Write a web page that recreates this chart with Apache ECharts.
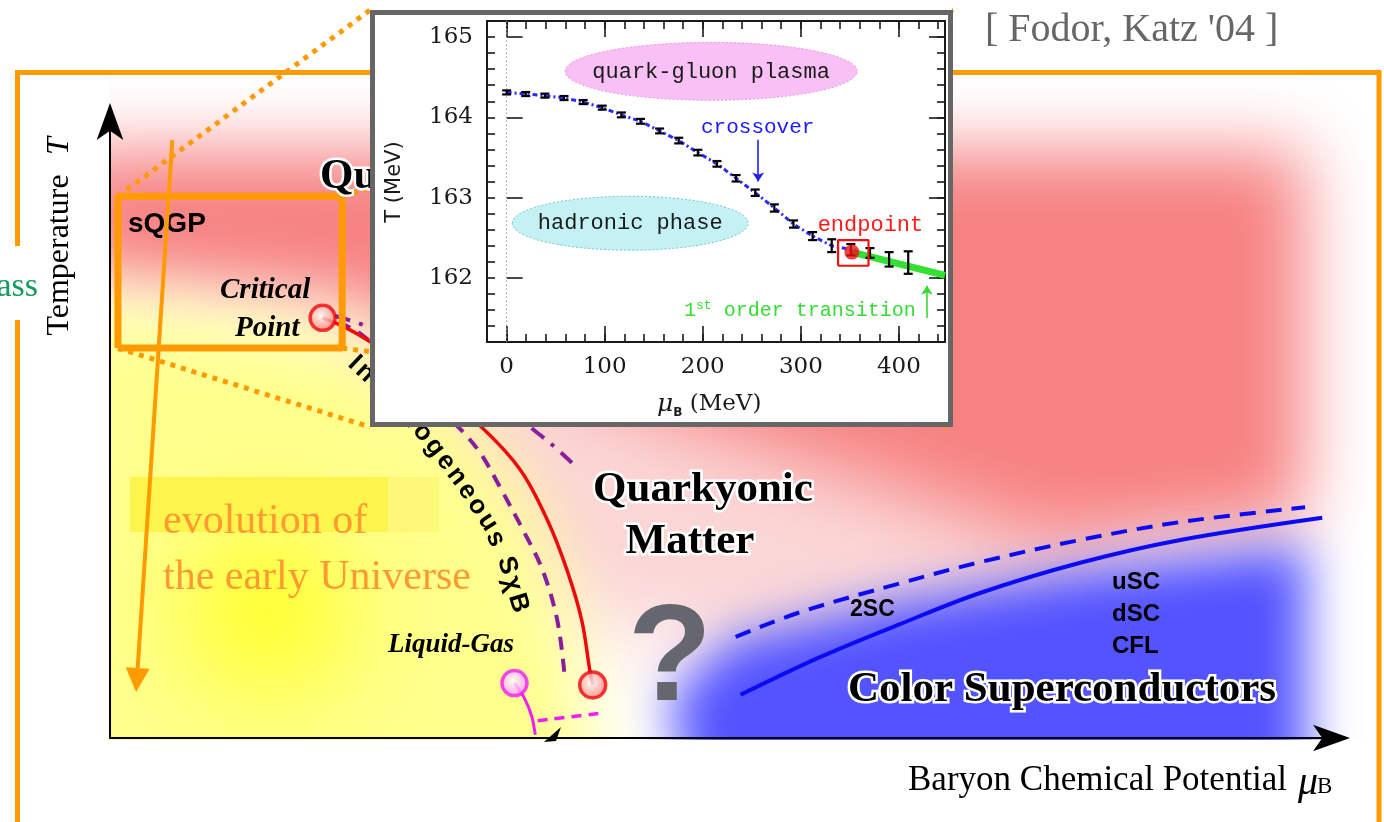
<!DOCTYPE html>
<html>
<head>
<meta charset="utf-8">
<title>QCD phase diagram</title>
<script src="https://cdn.jsdelivr.net/npm/echarts/dist/echarts.min.js"></script>
<style>
  html, body { margin: 0; padding: 0; background: #fff; }
  #chart { width: 1384px; height: 822px; }
</style>
</head>
<body>
<div id="chart"></div>
<script>
// ---------- Lattice crossover line (inset): muB [MeV] vs T [MeV] ----------
const latticeMuB = [0, 19.5, 39, 58.5, 78, 97.5, 117, 136.5, 156, 175.5, 195, 214.5, 234, 253.5, 273, 292.5, 312, 331.5, 351, 370.5, 390, 409.5];
const latticeT   = [164.31, 164.29, 164.27, 164.24, 164.19, 164.12, 164.03, 163.95, 163.83, 163.71, 163.56, 163.42, 163.24, 163.06, 162.87, 162.67, 162.52, 162.40, 162.35, 162.31, 162.23, 162.19];
const latticeErr = [0.025, 0.025, 0.025, 0.025, 0.025, 0.025, 0.03, 0.03, 0.03, 0.035, 0.035, 0.035, 0.04, 0.04, 0.045, 0.045, 0.05, 0.08, 0.07, 0.06, 0.09, 0.14];
const endpointMuT  = [352, 162.32];
const firstOrderMu = [352, 447];
const firstOrderT  = [162.32, 162.03];
const endpointBoxMu = [338, 369];
const endpointBoxT  = [162.15, 162.47];
const insetXRange = [-20, 447];
const insetYRange = [161.2, 165.2];
const insetXTicks = [0, 100, 200, 300, 400];
const insetYTicks = [162, 163, 164, 165];
const crossoverArrow  = [[256.5, 163.72], [256.5, 163.20]];
const firstOrderArrow = [[428.6, 161.50], [428.6, 161.90]];
// inset annotation anchors (data units)
const qgpLabelAt        = [208.5, 164.56];
const hadronLabelAt     = [126, 162.68];
const crossoverLabelAt  = [256, 163.87];
const endpointLabelAt   = [371, 162.66];
const firstOrderLabelAt = [299, 161.59];

// ---------- Schematic phase diagram (arbitrary units, muB 0-100, T 0-100) ----------
const chiralLine     = [[17.4,68.1],[19.2,66.6],[21.3,64.2],[26.2,57.2],[30.5,50.2],[33.6,43.4],[35.8,35.3],[37.4,27.2],[38.6,19.1],[39.3,10.5],[39.5,8.6]];
const inhomInner     = [[18.7,67.4],[20.5,65.5],[23.7,60.0],[27.0,53.2],[28.9,49.6],[30.4,45.9],[31.9,40.7],[33.8,33.7],[35.4,27.2],[36.6,19.1],[37.2,10.2]];
const inhomOuter     = [[18.4,68.4],[20.9,66.8],[25.4,62.1],[30.3,56.7],[34.5,50.2],[36.2,47.5],[37.8,44.6]];
const liquidGasLine  = [[33.1,8.9],[33.9,6.5],[34.5,3.6],[34.8,0.5]];
const liquidGasDash  = [[35.0,2.8],[40.5,4.1]];
const cscDashed      = [[51.2,16.4],[56.5,20.4],[64.7,25.1],[71.2,28.5],[79.4,32.1],[87.6,35.0],[97.8,37.4]];
const cscSolid       = [[51.6,7.0],[58.1,13.1],[64.7,18.5],[71.2,23.5],[79.4,28.4],[87.6,32.1],[99.2,35.7]];
const criticalPoint  = [17.4, 68.1];
const chiralEndPoint = [39.5, 8.6];
const liquidGasPoint = [33.1, 8.9];
const zoomBox        = [[0.65,63.2],[19.0,63.2],[19.0,87.8],[0.65,87.8],[0.65,63.2]];
const zoomFrom       = [[0.65,87.8],[19.0,87.8],[0.65,63.2],[19.0,63.2]];
const zoomTo         = [[21.3,118.0],[69.0,118.0],[21.3,50.4],[69.0,50.4]];
const universeArrow  = [[5.1,96.9],[2.2,9.4]];

const ORANGE = '#ff9a00';
const chart = echarts.init(document.getElementById('chart'), null, { renderer: 'canvas' });

// inset plot rectangle and the sub-rectangles that carry the long (major) ticks
const IN = { left: 487, top: 21, width: 458, height: 321 };
const pxPerMu = IN.width / (insetXRange[1] - insetXRange[0]);
const pxPerT  = IN.height / (insetYRange[1] - insetYRange[0]);
const majorXGrid = {
  left: IN.left + (insetXTicks[0] - insetXRange[0]) * pxPerMu, top: IN.top,
  width: (insetXTicks[insetXTicks.length - 1] - insetXTicks[0]) * pxPerMu, height: IN.height
};
const majorYGrid = {
  left: IN.left, width: IN.width,
  top: IN.top + (insetYRange[1] - insetYTicks[insetYTicks.length - 1]) * pxPerT,
  height: (insetYTicks[insetYTicks.length - 1] - insetYTicks[0]) * pxPerT
};

function lineSeries(data, color, width, type, z, axis) {
  return {
    type: 'line', data: data, xAxisIndex: axis || 0, yAxisIndex: axis || 0,
    symbol: 'none', smooth: 0.35, clip: false, silent: true, z: z || 5,
    lineStyle: { color: color, width: width, type: type || 'solid', cap: 'butt' }
  };
}
function dotItem(pos, ring, inner, size) {
  return {
    value: pos, symbolSize: size,
    itemStyle: {
      color: { type: 'radial', x: 0.45, y: 0.42, r: 0.6,
        colorStops: [{ offset: 0, color: '#ffffff' }, { offset: 1, color: inner }] },
      borderColor: ring, borderWidth: 3.5
    }
  };
}
const frameLine = { show: true, onZero: false, lineStyle: { color: '#1a1a1a', width: 2 } };
const isTick = (list) => (v) => {
  const r = Math.round(v);
  return Math.abs(v - r) < 1e-6 && list.indexOf(r) >= 0 ? String(r) : '';
};
function insetAxis(isX, grid, pos, range, interval, tickLen, withLine, withLabel) {
  return {
    type: 'value', gridIndex: grid, position: pos, z: 20,
    min: range[0], max: range[1], interval: interval,
    axisLine: withLine ? frameLine : { show: false },
    axisTick: { show: true, inside: true, length: tickLen, lineStyle: { color: '#1a1a1a', width: 1.6 } },
    axisLabel: {
      show: withLabel, margin: 14, fontFamily: 'DejaVu Serif', fontSize: 23, color: '#1a1a1a',
      formatter: isTick(isX ? insetXTicks : insetYTicks)
    },
    splitLine: { show: false }
  };
}
const hiddenAxis = (grid, range) => ({ type: 'value', gridIndex: grid, show: false, min: range[0], max: range[1] });
const mainAxis = {
  type: 'value', gridIndex: 0, min: 0, max: 100, z: 8,
  axisLine: { show: true, onZero: false, symbol: ['none', 'arrow'], symbolSize: [20, 37], symbolOffset: [0, 18],
    lineStyle: { color: '#000', width: 2 } },
  axisTick: { show: false }, axisLabel: { show: false }, splitLine: { show: false }
};
const xMajorRange = [insetXTicks[0], insetXTicks[insetXTicks.length - 1]];
const yMajorRange = [insetYTicks[0], insetYTicks[insetYTicks.length - 1]];

const option = {
  animation: false,
  backgroundColor: '#ffffff',
  grid: [
    { left: 110, top: 121, width: 1222, height: 617, show: false, outerBoundsMode: 'none' },
    Object.assign({ show: false, outerBoundsMode: 'none' }, IN),
    Object.assign({ show: false, outerBoundsMode: 'none' }, majorXGrid),
    Object.assign({ show: false, outerBoundsMode: 'none' }, majorYGrid)
  ],
  xAxis: [
    Object.assign({}, mainAxis),
    insetAxis(true, 1, 'bottom', insetXRange, 20, 8, true, true),
    insetAxis(true, 1, 'top', insetXRange, 20, 8, true, false),
    insetAxis(true, 2, 'bottom', xMajorRange, 100, 16, false, false),
    insetAxis(true, 2, 'top', xMajorRange, 100, 16, false, false),
    hiddenAxis(3, insetXRange)
  ],
  yAxis: [
    Object.assign({}, mainAxis),
    insetAxis(false, 1, 'left', insetYRange, 0.2, 8, true, true),
    insetAxis(false, 1, 'right', insetYRange, 0.2, 8, true, false),
    hiddenAxis(2, insetYRange),
    insetAxis(false, 3, 'left', yMajorRange, 1, 16, false, false),
    insetAxis(false, 3, 'right', yMajorRange, 1, 16, false, false)
  ],
  series: [
    // --- schematic diagram ---
    lineSeries(inhomInner, '#8a1c9e', 4, [13, 9]),
    lineSeries(inhomOuter, '#8a1c9e', 4, [16, 9, 4, 9]),
    lineSeries(chiralLine, '#ee0a0a', 3.5),
    lineSeries(liquidGasLine, '#f01ef0', 3),
    lineSeries(liquidGasDash, '#f01ef0', 3.5, [10, 7]),
    lineSeries(cscDashed, '#0b0bf2', 4, [16, 10]),
    lineSeries(cscSolid, '#0b0bf2', 4),
    Object.assign(lineSeries(zoomBox, ORANGE, 7), { smooth: false }),
    {
      type: 'lines', coordinateSystem: 'cartesian2d', xAxisIndex: 0, yAxisIndex: 0,
      clip: false, silent: true, z: 5, symbol: 'none',
      lineStyle: { color: ORANGE, width: 5, type: [5, 6], opacity: 1 },
      data: zoomFrom.map((p, i) => ({ coords: [p, zoomTo[i]] }))
    },
    {
      type: 'lines', coordinateSystem: 'cartesian2d', xAxisIndex: 0, yAxisIndex: 0,
      clip: false, silent: true, z: 7, symbol: ['none', 'triangle'], symbolSize: 24,
      lineStyle: { color: ORANGE, width: 4, opacity: 1 },
      data: [{ coords: universeArrow }]
    },
    {
      type: 'scatter', xAxisIndex: 0, yAxisIndex: 0, z: 7, silent: true, clip: false,
      data: [
        dotItem(criticalPoint, '#ee0a0a', '#ff6b6b', 25),
        dotItem(chiralEndPoint, '#ee0a0a', '#ff6b6b', 26),
        dotItem(liquidGasPoint, '#f01ef0', '#ff80ff', 25)
      ]
    },
    // --- inset: lattice result ---
    Object.assign(lineSeries([[0, insetYRange[0]], [0, insetYRange[1]]], '#9a9a9a', 1, [1.5, 2.5], 21, 1), { smooth: false }),
    Object.assign(lineSeries(latticeMuB.filter(m => m <= endpointMuT[0]).map((m, i) => [m, latticeT[i]]),
      '#2a2aff', 3, [5, 3, 2, 3], 22, 1), { smooth: false }),
    Object.assign(lineSeries(firstOrderMu.map((m, i) => [m, firstOrderT[i]]), '#33e033', 7, 'solid', 22, 1), { smooth: false }),
    {
      type: 'custom', xAxisIndex: 1, yAxisIndex: 1, z: 23, silent: true, clip: false,
      data: latticeMuB.map((m, i) => [m, latticeT[i], latticeErr[i]]),
      renderItem: function (params, api) {
        const x = api.value(0), y = api.value(1), e = api.value(2);
        const top = api.coord([x, y + e]);
        const bot = api.coord([x, y - e]);
        const w = 4.5;
        const st = { stroke: '#000', lineWidth: 2.2 };
        return {
          type: 'group', children: [
            { type: 'line', shape: { x1: top[0], y1: top[1], x2: bot[0], y2: bot[1] }, style: st },
            { type: 'line', shape: { x1: top[0] - w, y1: top[1], x2: top[0] + w, y2: top[1] }, style: st },
            { type: 'line', shape: { x1: bot[0] - w, y1: bot[1], x2: bot[0] + w, y2: bot[1] }, style: st }
          ]
        };
      }
    },
    Object.assign(lineSeries([
      [endpointBoxMu[0], endpointBoxT[0]], [endpointBoxMu[1], endpointBoxT[0]],
      [endpointBoxMu[1], endpointBoxT[1]], [endpointBoxMu[0], endpointBoxT[1]],
      [endpointBoxMu[0], endpointBoxT[0]]
    ], '#ee1111', 2.2, 'solid', 24, 1), { smooth: false }),
    {
      type: 'scatter', xAxisIndex: 1, yAxisIndex: 1, z: 25, silent: true,
      symbolSize: 15, itemStyle: { color: '#ee1111' }, data: [endpointMuT]
    },
    {
      type: 'lines', coordinateSystem: 'cartesian2d', xAxisIndex: 1, yAxisIndex: 1,
      clip: false, silent: true, z: 24, symbol: ['none', 'arrow'], symbolSize: 9,
      lineStyle: { color: '#2020ff', width: 1.6, opacity: 1 }, data: [{ coords: crossoverArrow }]
    },
    {
      type: 'lines', coordinateSystem: 'cartesian2d', xAxisIndex: 1, yAxisIndex: 1,
      clip: false, silent: true, z: 24, symbol: ['none', 'arrow'], symbolSize: 9,
      lineStyle: { color: '#33dd33', width: 1.6, opacity: 1 }, data: [{ coords: firstOrderArrow }]
    }
  ]
};
chart.setOption(option);

// ---------- decorations and labels ----------
const OFF = 6000;  // draw blobs off-canvas and keep only their blurred shadow
function blob(pts, color, blur) {
  return {
    type: 'polygon', z: 0, silent: true,
    shape: { points: pts.map(p => [p[0] - OFF, p[1]]) },
    style: { fill: color, shadowColor: color, shadowBlur: blur, shadowOffsetX: OFF, shadowOffsetY: 0 }
  };
}
function blobCircle(cx, cy, r, color, blur) {
  return {
    type: 'circle', z: 0, silent: true, shape: { cx: cx - OFF, cy: cy, r: r },
    style: { fill: color, shadowColor: color, shadowBlur: blur, shadowOffsetX: OFF, shadowOffsetY: 0 }
  };
}
function txt(x, y, s, font, fill, align, z, extra) {
  return Object.assign({
    type: 'text', x: x, y: y, z: z || 6, silent: true,
    style: { text: s, font: font, fill: fill || '#000', textAlign: align || 'left', textVerticalAlign: 'middle' }
  }, extra || {});
}
function haloTxt(x, y, s, font, align) {
  return [
    { type: 'text', x: x, y: y, z: 6, silent: true,
      style: { text: s, font: font, fill: '#fff', stroke: '#fff', lineWidth: 5, textAlign: align || 'left',
        textVerticalAlign: 'middle', shadowColor: 'rgba(255,255,255,0.9)', shadowBlur: 6 } },
    txt(x, y, s, font, '#000', align, 7)
  ];
}
function pathText(str, pts, font, fill) {
  const ctx = document.createElement('canvas').getContext('2d');
  ctx.font = font;
  const segs = []; let L = 0;
  for (let i = 1; i < pts.length; i++) {
    const d = Math.hypot(pts[i][0] - pts[i - 1][0], pts[i][1] - pts[i - 1][1]);
    segs.push(d); L += d;
  }
  const chars = Array.from(str);
  const widths = chars.map(c => ctx.measureText(c).width);
  const total = widths.reduce((a, b) => a + b, 0);
  const gap = (L - total) / (chars.length - 1);
  const out = []; let s = 0;
  chars.forEach((c, k) => {
    const mid = s + widths[k] / 2;
    let acc = 0, i = 0;
    while (i < segs.length - 1 && acc + segs[i] < mid) { acc += segs[i]; i++; }
    const t = (mid - acc) / segs[i];
    const x = pts[i][0] + (pts[i + 1][0] - pts[i][0]) * t;
    const y = pts[i][1] + (pts[i + 1][1] - pts[i][1]) * t;
    const ang = Math.atan2(pts[i + 1][1] - pts[i][1], pts[i + 1][0] - pts[i][0]);
    out.push({ type: 'text', x: x, y: y, rotation: -ang, z: 6, silent: true,
      style: { text: c, font: font, fill: fill, textAlign: 'center', textVerticalAlign: 'middle' } });
    s += widths[k] + gap;
  });
  return out;
}
const ip = (p) => chart.convertToPixel({ xAxisIndex: 1, yAxisIndex: 1 }, p);

const g = [];
// soft colour field
g.push(blob([[300,330],[700,400],[1050,470],[1100,600],[760,660],[560,620],[420,480]], '#fbd6d6', 90));
g.push(blob([[60,150],[1305,150],[1305,520],[1060,545],[860,480],[660,420],[480,355],[340,300],[60,275]], '#f78282', 70));
g.push(blob([[60,300],[330,335],[450,400],[535,510],[575,640],[600,820],[60,820]], '#ffff8e', 70));
g.push(blobCircle(268, 612, 75, '#ffff10', 110));
g.push(blob([[700,820],[668,700],[730,640],[900,600],[1100,568],[1306,545],[1306,820]], '#5353ff', 50));
// plain white outside the axes
g.push({ type: 'rect', z: 1, silent: true, shape: { x: 0, y: 740, width: 1384, height: 90 }, style: { fill: '#fff' } });
g.push({ type: 'rect', z: 1, silent: true, shape: { x: 0, y: 0, width: 109, height: 822 }, style: { fill: '#fff' } });
// highlight behind the universe label
g.push({ type: 'rect', z: 2, silent: true, shape: { x: 130, y: 477, width: 258, height: 55 }, style: { fill: '#fdf54c' } });
g.push({ type: 'rect', z: 2, silent: true, shape: { x: 388, y: 477, width: 51, height: 55 }, style: { fill: '#fdf878' } });
// outer orange frame with a gap on the left
g.push({ type: 'rect', z: 8, silent: true, shape: { x: 17.5, y: 72.5, width: 1361.5, height: 820 },
  style: { fill: 'none', stroke: ORANGE, lineWidth: 5 } });
g.push({ type: 'rect', z: 9, silent: true, shape: { x: 0, y: 246, width: 46, height: 74 }, style: { fill: '#fff' } });
g.push(txt(38, 287, 'ass', '34px "Liberation Serif"', '#13995a', 'right', 9));
g.push(txt(985, 30, "[ Fodor, Katz '04 ]", '40px "Liberation Serif"', '#666666', 'left', 9));

// axis titles of the schematic
g.push(txt(60, 255, 'Temperature', '32px "Liberation Serif"', '#000', 'center', 9, { rotation: Math.PI / 2 }));
g.push(txt(60, 146, 'T', 'italic 32px "Liberation Serif"', '#000', 'center', 9, { rotation: Math.PI / 2 }));
g.push(txt(908, 781, 'Baryon Chemical Potential', '35px "Liberation Serif"', '#000', 'left', 9));
g.push(txt(1298, 783, 'μ', 'italic 40px "Liberation Serif"', '#000', 'left', 9));
g.push(txt(1317, 787, 'B', '23px "Liberation Serif"', '#000', 'left', 9));

// region names
haloTxt(320, 177, 'Quark-Gluon Plasma', 'bold 43px "Liberation Serif"').forEach(e => g.push(e));
haloTxt(703, 490, 'Quarkyonic', 'bold 43px "Liberation Serif"', 'center').forEach(e => g.push(e));
haloTxt(690, 542, 'Matter', 'bold 43px "Liberation Serif"', 'center').forEach(e => g.push(e));
haloTxt(848, 690, 'Color Superconductors', 'bold 43px "Liberation Serif"').forEach(e => g.push(e));
g.push(txt(128, 224, 'sQGP', 'bold 28px "Liberation Sans"'));
g.push(txt(220, 291, 'Critical', 'italic bold 29px "Liberation Serif"'));
g.push(txt(235, 329, 'Point', 'italic bold 29px "Liberation Serif"'));
g.push(txt(388, 645, 'Liquid-Gas', 'italic bold 27px "Liberation Serif"'));
g.push(txt(670, 662, '?', 'bold 138px "Liberation Sans"', '#66666e', 'center'));
g.push(txt(850, 610, '2SC', 'bold 23px "Liberation Sans"'));
g.push(txt(1112, 582, 'uSC', 'bold 24px "Liberation Sans"'));
g.push(txt(1112, 614, 'dSC', 'bold 24px "Liberation Sans"'));
g.push(txt(1112, 646, 'CFL', 'bold 24px "Liberation Sans"'));
g.push(txt(163, 522, 'evolution of', '42px "Liberation Serif"', '#ff9a33', 'left', 8));
g.push(txt(163, 578, 'the early Universe', '42px "Liberation Serif"', '#ff9a33', 'left', 8));
pathText('Inhomogeneous SχB',
  [[352,360],[396,402],[430,441],[462,483],[489,524],[507,565],[521,612]],
  'bold 26px "Liberation Sans"', '#000').forEach(e => g.push(e));
g.push({ type: 'polygon', z: 6, silent: true, shape: { points: [[544,742],[561,727],[556,741]] }, style: { fill: '#000' } });

// inset panel
g.push({ type: 'rect', z: 10, silent: true, shape: { x: 372.5, y: 12.5, width: 578, height: 412 },
  style: { fill: '#fff', stroke: '#666', lineWidth: 5 } });
const qgp = ip(qgpLabelAt), had = ip(hadronLabelAt);
g.push({ type: 'ellipse', z: 11, silent: true, shape: { cx: qgp[0], cy: qgp[1] - 1, rx: 146, ry: 29 },
  style: { fill: '#f8c0f4', stroke: '#e79ae3', lineWidth: 1, lineDash: [2, 2] } });
g.push({ type: 'ellipse', z: 11, silent: true, shape: { cx: had[0], cy: had[1], rx: 118, ry: 27 },
  style: { fill: '#c3f1f4', stroke: '#7bc7cc', lineWidth: 1, lineDash: [2, 2] } });
g.push(txt(qgp[0], qgp[1], 'quark-gluon plasma', '22px "Liberation Mono"', '#1a1a1a', 'center', 26));
g.push(txt(had[0], had[1], 'hadronic phase', '22px "Liberation Mono"', '#1a1a1a', 'center', 26));
const co = ip(crossoverLabelAt), ep = ip(endpointLabelAt), fo = ip(firstOrderLabelAt);
g.push(txt(co[0], co[1], 'crossover', '21px "Liberation Mono"', '#1a1aff', 'center', 26));
g.push(txt(ep[0], ep[1], 'endpoint', '22px "Liberation Mono"', '#ff1a1a', 'center', 26));
g.push({ type: 'text', x: fo[0], y: fo[1], z: 26, silent: true,
  style: { text: '{n|1}{s|st}{n| order transition}', textAlign: 'center', textVerticalAlign: 'middle',
    rich: {
      n: { font: '20px "Liberation Mono"', fill: '#33dd33', lineHeight: 24 },
      s: { font: '13px "Liberation Mono"', fill: '#33dd33', verticalAlign: 'top', lineHeight: 24 }
    } } });
g.push(txt(395, 182, 'T (MeV)', '21px "DejaVu Sans"', '#1a1a1a', 'center', 26, { rotation: Math.PI / 2 }));
g.push({ type: 'text', x: 657, y: 404, z: 26, silent: true,
  style: { text: '{m|μ}{b|B}{t| (MeV)}', textAlign: 'left', textVerticalAlign: 'middle',
    rich: {
      m: { font: 'italic 25px "DejaVu Serif"', fill: '#1a1a1a', lineHeight: 30 },
      b: { font: 'bold 12px "DejaVu Sans"', fill: '#1a1a1a', verticalAlign: 'bottom', lineHeight: 30 },
      t: { font: '23px "DejaVu Serif"', fill: '#1a1a1a', lineHeight: 30 }
    } } });

chart.setOption({ graphic: { elements: g } });
</script>
</body>
</html>
